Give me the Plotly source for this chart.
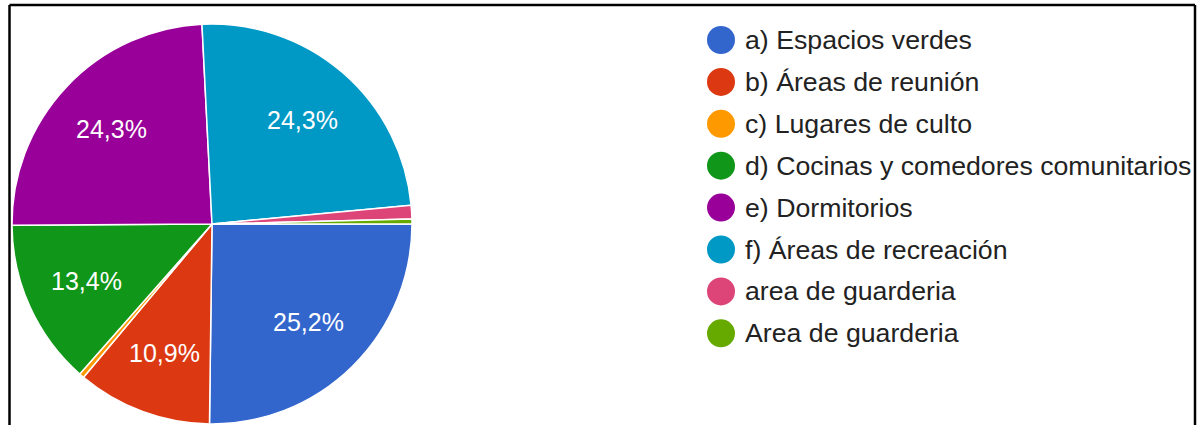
import math
import plotly.graph_objects as go

# Survey answers and their share of responses (%)
categories = [
    "a) Espacios verdes",
    "b) Áreas de reunión",
    "c) Lugares de culto",
    "d) Cocinas y comedores comunitarios",
    "e) Dormitorios",
    "f) Áreas de recreación",
    "area de guarderia",
    "Area de guarderia",
]
shares = [25.2, 10.9, 0.4, 13.4, 24.3, 24.3, 1.1, 0.4]
colors = ["#3366cc", "#dc3912", "#ff9900", "#109618",
          "#990099", "#0099c6", "#dd4477", "#66aa00"]

W, H = 1199, 425
FONT = "Liberation Sans, Arial, sans-serif"

# pie geometry in pixels
CX, CY, R = 212, 224, 200

fig = go.Figure(go.Pie(
    labels=categories,
    values=shares,
    sort=False,
    direction="clockwise",
    rotation=90,
    marker=dict(colors=colors, line=dict(color="white", width=1.5)),
    textinfo="none",
    hoverinfo="label+percent",
    showlegend=False,
    domain=dict(x=[(CX - R) / W, (CX + R) / W],
                y=[1 - (CY + R) / H, 1 - (CY - R) / H]),
))

shapes = []
annotations = []

# percentage labels placed along each slice's bisector (slices >= 5%)
total = sum(shares)
start = 0.0
for v in shares:
    frac = v / total
    mid = (start + frac / 2) * 2 * math.pi  # clockwise from 3 o'clock
    start += frac
    if frac < 0.05:
        continue
    px = CX + 0.69 * R * math.cos(mid)
    py = CY + 0.69 * R * math.sin(mid)
    annotations.append(dict(
        text=f"{frac * 100:.1f}%".replace(".", ","),
        xref="paper", yref="paper", x=px / W, y=1 - py / H,
        xanchor="center", yanchor="middle", showarrow=False,
        font=dict(size=25, color="white", family=FONT),
    ))

# hand-built legend with round swatches
row0, step = 40, 41.9
for i, (name, col) in enumerate(zip(categories, colors)):
    yc = row0 + step * i
    shapes.append(dict(
        type="circle", xref="paper", yref="paper",
        x0=707 / W, x1=735 / W,
        y0=1 - (yc + 14) / H, y1=1 - (yc - 14) / H,
        fillcolor=col, line=dict(width=0),
    ))
    annotations.append(dict(
        text=name, xref="paper", yref="paper",
        x=743 / W, y=1 - yc / H, xanchor="left", yanchor="middle",
        showarrow=False, font=dict(size=26.7, color="#222222", family=FONT),
    ))

# frame around the chart (open at the bottom)
for x0, y0, x1, y1 in [(9.5, 5, 9.5, H + 5), (9.5, 5, 1195, 5), (1195, 5, 1195, H + 5)]:
    shapes.append(dict(
        type="line", xref="paper", yref="paper",
        x0=x0 / W, x1=x1 / W, y0=1 - y0 / H, y1=1 - y1 / H,
        line=dict(color="black", width=2.5),
    ))

fig.update_layout(
    width=W, height=H,
    margin=dict(l=0, r=0, t=0, b=0),
    paper_bgcolor="white",
    plot_bgcolor="white",
    separators=",.",
    shapes=shapes,
    annotations=annotations,
)

fig.write_html("out.html")
